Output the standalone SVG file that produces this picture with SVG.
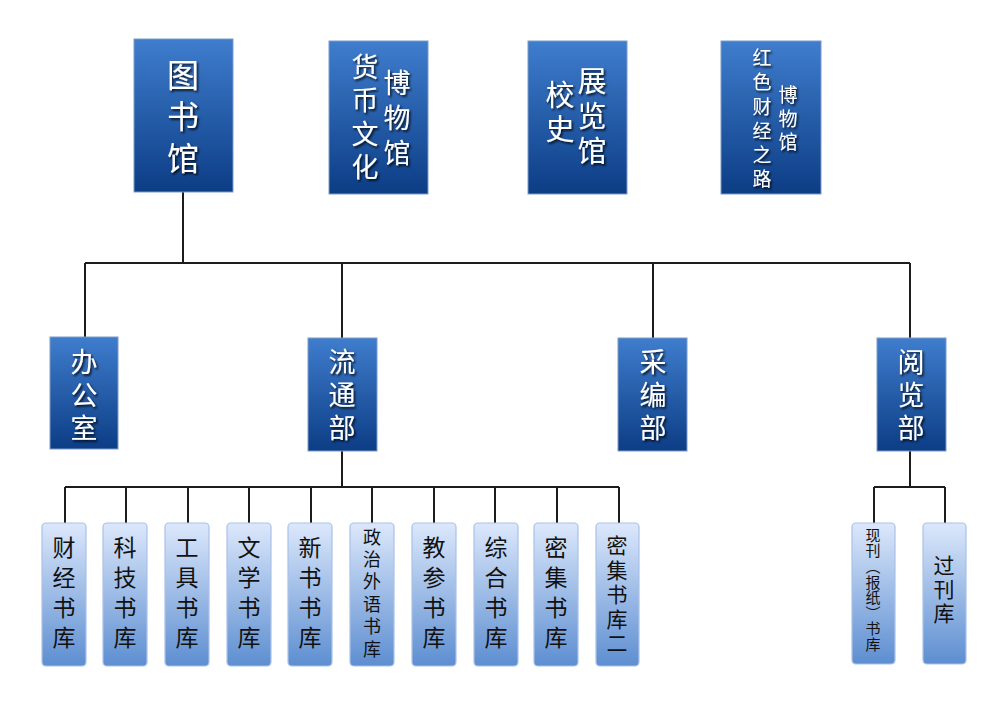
<svg xmlns="http://www.w3.org/2000/svg" width="998" height="706" viewBox="0 0 998 706">
<defs>
<linearGradient id="gDark" x1="0" y1="0" x2="0" y2="1">
<stop offset="0" stop-color="#3f7dcd"/>
<stop offset="1" stop-color="#0c3d85"/>
</linearGradient>
<linearGradient id="gLight" x1="0" y1="0" x2="0" y2="1">
<stop offset="0" stop-color="#dce8fb"/>
<stop offset="1" stop-color="#5d8ed1"/>
</linearGradient>
<filter id="shadow" x="-30%" y="-30%" width="160%" height="160%">
<feDropShadow dx="1.5" dy="1.8" stdDeviation="0.9" flood-color="#000" flood-opacity="0.85"/>
</filter>
<style>
.dark{fill:url(#gDark);stroke:#7d9bc6;stroke-width:1}
.light{fill:url(#gLight);stroke:#a9c1e8;stroke-width:1.2}
.v{font-family:"Noto Sans CJK SC","Noto Sans CJK JP",sans-serif;writing-mode:vertical-rl;text-anchor:middle}
.wt{fill:#fff;filter:url(#shadow)}
.bt{fill:#111}
.conn{fill:none;stroke:#1c1c1c;stroke-width:2}
</style>
</defs>
<rect width="998" height="706" fill="#fff"/>

<g id="connectors">
<path class="conn" d="M183 192V263M85 263H910M85 263V337M342 263V338M653 263V338M910 263V338"/>
<path class="conn" d="M342 451V487M65 487H619M65 487V523M126 487V523M188 487V523M249 487V523M311 487V523M372 487V523M434 487V523M495 487V523M557 487V523M619 487V523"/>
<path class="conn" d="M910 451V487M874 487H945M874 487V523M945 487V523"/>
</g>

<g id="n-library">
<rect class="dark" x="134" y="39" width="99" height="153"/>
<text class="v wt" x="183" y="121" font-size="32" letter-spacing="9.5">图书馆</text>
</g>
<g id="n-currency">
<rect class="dark" x="329" y="41" width="99" height="153"/>
<text class="v wt" x="365" y="120" font-size="27" letter-spacing="6.3">货币文化</text>
<text class="v wt" x="397" y="122" font-size="27" letter-spacing="8">博物馆</text>
</g>
<g id="n-history">
<rect class="dark" x="528" y="41" width="99" height="153"/>
<text class="v wt" x="560" y="114.5" font-size="29" letter-spacing="5">校史</text>
<text class="v wt" x="592" y="119" font-size="29" letter-spacing="6">展览馆</text>
</g>
<g id="n-red">
<rect class="dark" x="721" y="41" width="100" height="153"/>
<text class="v wt" x="762" y="121" font-size="19" letter-spacing="5.2">红色财经之路</text>
<text class="v wt" x="788" y="121" font-size="19" letter-spacing="4.5">博物馆</text>
</g>

<g id="n-office">
<rect class="dark" x="50" y="337" width="68" height="112"/>
<text class="v wt" x="84" y="398" font-size="27" letter-spacing="6">办公室</text>
</g>
<g id="n-circulation">
<rect class="dark" x="308" y="338" width="69" height="113"/>
<text class="v wt" x="342" y="398" font-size="27" letter-spacing="6">流通部</text>
</g>
<g id="n-acquisition">
<rect class="dark" x="618" y="338" width="69" height="113"/>
<text class="v wt" x="653" y="398" font-size="27" letter-spacing="6">采编部</text>
</g>
<g id="n-reading">
<rect class="dark" x="877" y="338" width="69" height="113"/>
<text class="v wt" x="911" y="398" font-size="27" letter-spacing="6">阅览部</text>
</g>

<g id="n-b1">
<rect class="light" x="42" y="523" width="44" height="143" rx="4"/>
<text class="v bt" x="64" y="596" font-size="23" letter-spacing="7">财经书库</text>
</g>
<g id="n-b2">
<rect class="light" x="103" y="523" width="44" height="143" rx="4"/>
<text class="v bt" x="125" y="596" font-size="23" letter-spacing="7">科技书库</text>
</g>
<g id="n-b3">
<rect class="light" x="165" y="523" width="44" height="143" rx="4"/>
<text class="v bt" x="187" y="596" font-size="23" letter-spacing="7">工具书库</text>
</g>
<g id="n-b4">
<rect class="light" x="227" y="523" width="44" height="143" rx="4"/>
<text class="v bt" x="249" y="596" font-size="23" letter-spacing="7">文学书库</text>
</g>
<g id="n-b5">
<rect class="light" x="288" y="523" width="44" height="143" rx="4"/>
<text class="v bt" x="310" y="596" font-size="23" letter-spacing="7">新书书库</text>
</g>
<g id="n-b6">
<rect class="light" x="350" y="523" width="44" height="143" rx="4"/>
<text class="v bt" x="372" y="595" font-size="18" letter-spacing="4.4">政治外语书库</text>
</g>
<g id="n-b7">
<rect class="light" x="412" y="523" width="44" height="143" rx="4"/>
<text class="v bt" x="434" y="596" font-size="23" letter-spacing="7">教参书库</text>
</g>
<g id="n-b8">
<rect class="light" x="474" y="523" width="44" height="143" rx="4"/>
<text class="v bt" x="496" y="596" font-size="23" letter-spacing="7">综合书库</text>
</g>
<g id="n-b9">
<rect class="light" x="534" y="523" width="44" height="143" rx="4"/>
<text class="v bt" x="556" y="596" font-size="23" letter-spacing="7">密集书库</text>
</g>
<g id="n-b10">
<rect class="light" x="596" y="523" width="43" height="143" rx="4"/>
<text class="v bt" x="617" y="596" font-size="21" letter-spacing="3.5">密集书库二</text>
</g>

<g id="n-current">
<rect class="light" x="852" y="523" width="43" height="141" rx="4"/>
<text class="v bt" x="873" y="590" font-size="15" letter-spacing="0.6">现刊（报纸）书库</text>
</g>
<g id="n-past">
<rect class="light" x="923" y="523" width="43" height="141" rx="4"/>
<text class="v bt" x="944" y="590.5" font-size="21" letter-spacing="3">过刊库</text>
</g>
</svg>
